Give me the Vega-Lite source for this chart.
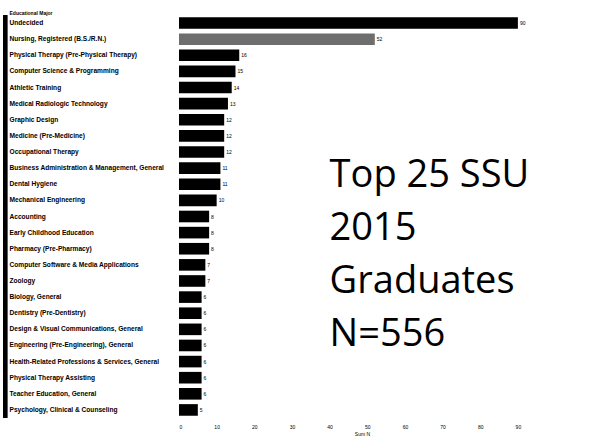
{
  "$schema": "https://vega.github.io/schema/vega-lite/v6.json",
  "width": 366,
  "height": 403,
  "autosize": {"type": "none"},
  "padding": {"left": 179, "top": 15, "right": 59, "bottom": 19},
  "background": "white",
  "config": {"view": {"stroke": null}, "font": "Liberation Sans"},
  "data": {"values": [
    {"major": "Undecided", "n": 90},
    {"major": "Nursing, Registered (B.S./R.N.)", "n": 52},
    {"major": "Physical Therapy (Pre-Physical Therapy)", "n": 16},
    {"major": "Computer Science & Programming", "n": 15},
    {"major": "Athletic Training", "n": 14},
    {"major": "Medical Radiologic Technology", "n": 13},
    {"major": "Graphic Design", "n": 12},
    {"major": "Medicine (Pre-Medicine)", "n": 12},
    {"major": "Occupational Therapy", "n": 12},
    {"major": "Business Administration & Management, General", "n": 11},
    {"major": "Dental Hygiene", "n": 11},
    {"major": "Mechanical Engineering", "n": 10},
    {"major": "Accounting", "n": 8},
    {"major": "Early Childhood Education", "n": 8},
    {"major": "Pharmacy (Pre-Pharmacy)", "n": 8},
    {"major": "Computer Software & Media Applications", "n": 7},
    {"major": "Zoology", "n": 7},
    {"major": "Biology, General", "n": 6},
    {"major": "Dentistry (Pre-Dentistry)", "n": 6},
    {"major": "Design & Visual Communications, General", "n": 6},
    {"major": "Engineering (Pre-Engineering), General", "n": 6},
    {"major": "Health-Related Professions & Services, General", "n": 6},
    {"major": "Physical Therapy Assisting", "n": 6},
    {"major": "Teacher Education, General", "n": 6},
    {"major": "Psychology, Clinical & Counseling", "n": 5}
  ]},
  "encoding": {
    "y": {
      "field": "major", "type": "nominal", "sort": null,
      "scale": {"paddingInner": 0.28, "paddingOuter": 0.14},
      "axis": {
        "title": "Educational Major", "titleAngle": 0, "titleAlign": "left", "titleBaseline": "middle",
        "titleX": -170, "titleY": -3, "titleFontSize": 5, "titleFontWeight": "bold", "titleColor": "black",
        "domain": false, "ticks": false, "tickSize": 0,
        "labelAlign": "left", "labelPadding": 170, "labelFontSize": 6.6, "labelFont": "Liberation Sans",
        "labelFontWeight": "bold", "labelColor": "black", "labelLimit": 0
      }
    }
  },
  "layer": [
    {
      "mark": {"type": "rule", "strokeWidth": 4, "color": "black"},
      "encoding": {"x": {"datum": -46.2}, "y": null}
    },
    {
      "mark": {"type": "bar"},
      "encoding": {
        "x": {
          "field": "n", "type": "quantitative",
          "scale": {"domain": [0, 97.2], "nice": false},
          "axis": {
            "title": "Sum N", "titleFontSize": 5, "titleFontWeight": "normal", "titlePadding": 2, "titleColor": "black",
            "values": [0, 10, 20, 30, 40, 50, 60, 70, 80, 90],
            "domain": false, "ticks": false, "tickSize": 0, "grid": false,
            "labelFontSize": 5, "labelPadding": 6, "labelColor": "black"
          }
        },
        "color": {
          "condition": {"test": "datum.major === 'Nursing, Registered (B.S./R.N.)'", "value": "#6e6e6e"},
          "value": "black"
        }
      }
    },
    {
      "mark": {"type": "text", "align": "left", "baseline": "middle", "dx": 2, "fontSize": 5, "color": "black"},
      "encoding": {
        "x": {"field": "n", "type": "quantitative"},
        "text": {"field": "n", "type": "quantitative"}
      }
    },
    {
      "data": {"values": [{"label": ["Top 25 SSU", "2015", "Graduates", "N=556"]}]},
      "mark": {"type": "text", "align": "left", "baseline": "alphabetic", "font": "Open Sans", "fontSize": 38, "lineHeight": 53, "color": "black", "dy": 3},
      "encoding": {
        "x": {"datum": 40},
        "y": {"datum": "Dental Hygiene"},
        "text": {"field": "label"}
      }
    }
  ]
}
